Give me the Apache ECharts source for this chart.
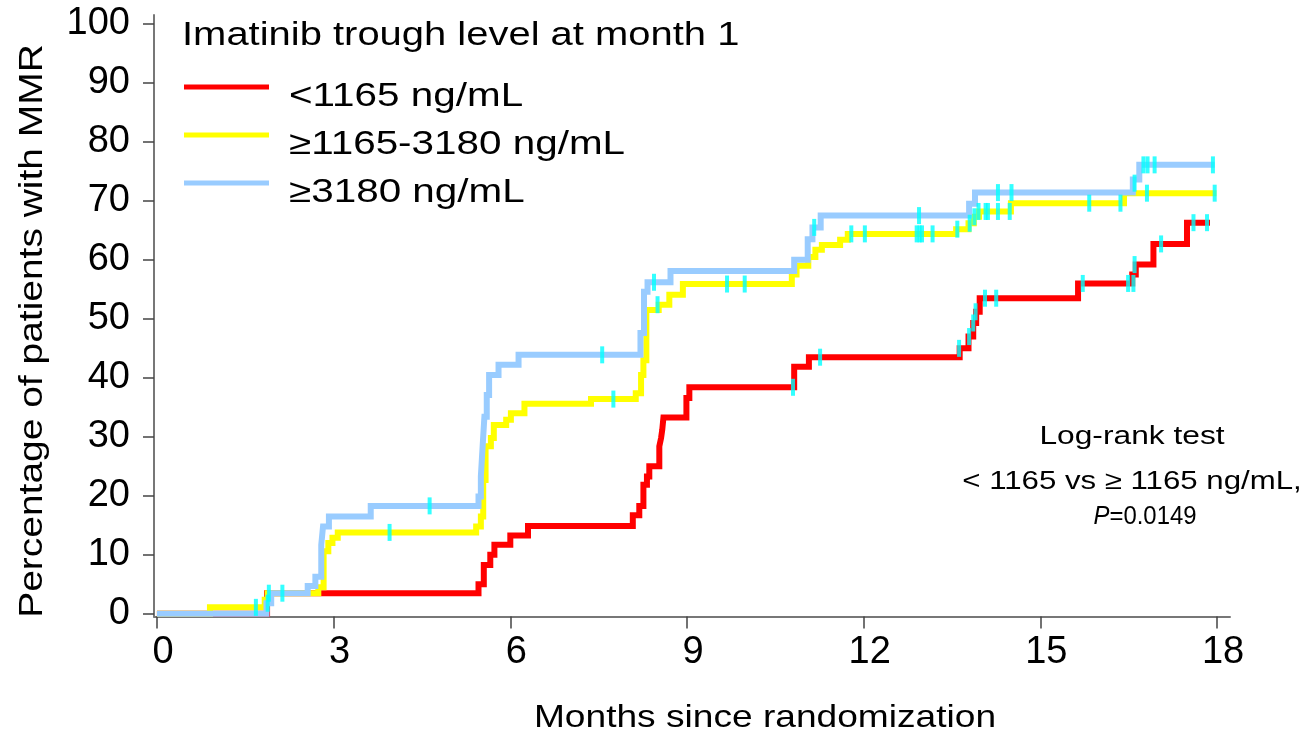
<!DOCTYPE html>
<html>
<head>
<meta charset="utf-8">
<script src="https://cdn.jsdelivr.net/npm/echarts@6/dist/echarts.min.js"></script>
<style>
  html, body { margin: 0; padding: 0; background: #ffffff; }
  #chart { width: 1313px; height: 736px; }
</style>
</head>
<body>
<div id="chart"></div>
<script>
// Cumulative incidence of MMR (%) by imatinib trough level, step points [month, percent]
const lowSteps = [
  [0, 0], [1.87, 3.5], [5.46, 5.0], [5.55, 8.3], [5.66, 10.0], [5.73, 11.7], [6.0, 13.3],
  [6.3, 14.9], [8.08, 16.7], [8.19, 18.3], [8.26, 21.9], [8.32, 23.3], [8.36, 25.0],
  [8.53, 28.4], [8.56, 29.8], [8.58, 31.2], [8.6, 33.3], [8.99, 36.6], [9.04, 38.4],
  [10.82, 41.9], [11.07, 43.5], [13.63, 45.0], [13.78, 47.0], [13.86, 49.3], [13.91, 51.2],
  [13.97, 53.5], [15.64, 56.0], [16.56, 57.5], [16.62, 59.2], [16.92, 62.7], [17.49, 66.3],
  [17.88, 66.3]
];
const midSteps = [
  [0, 0], [0.9, 1.1], [1.83, 2.4], [1.88, 3.5], [2.74, 4.5], [2.83, 10.6], [2.91, 12.0],
  [2.98, 12.9], [3.07, 13.8], [5.42, 14.8], [5.5, 16.5], [5.54, 22.7], [5.58, 28.4],
  [5.67, 29.8], [5.72, 32.0], [5.93, 32.9], [6.01, 34.0], [6.24, 35.6], [7.37, 36.4],
  [8.13, 37.4], [8.22, 40.5], [8.26, 43.0], [8.31, 51.5], [8.52, 52.4], [8.7, 54.1],
  [8.93, 55.9], [10.78, 57.5], [10.86, 59.0], [11.06, 60.5], [11.18, 61.7], [11.29, 62.5],
  [11.6, 63.4], [11.73, 64.4], [13.57, 65.2], [13.78, 66.2], [13.87, 67.3], [13.96, 68.2],
  [14.5, 69.6], [16.42, 71.3], [17.99, 71.3]
];
const highSteps = [
  [0, 0], [1.86, 1.8], [1.94, 3.5], [2.56, 4.7], [2.69, 6.3], [2.79, 11.7], [2.82, 14.8],
  [2.92, 16.5], [3.63, 18.3], [5.46, 19.9], [5.5, 23.3], [5.53, 28.4], [5.56, 33.4],
  [5.6, 37.1], [5.64, 40.5], [5.8, 42.2], [6.14, 43.9], [8.21, 47.6], [8.27, 54.6],
  [8.33, 56.2], [8.72, 58.1], [10.82, 60.0], [11.05, 63.5], [11.13, 65.5], [11.27, 67.5],
  [13.79, 69.5], [13.89, 71.4], [16.57, 73.6], [16.68, 76.1], [17.96, 76.1]
];

// Censored observations [month, percent]
const lowCensored = [
  [10.8, 38.4], [11.26, 43.5], [13.62, 45.0], [13.79, 47.0], [13.86, 49.3], [13.9, 51.2],
  [14.06, 53.5], [14.25, 53.5], [15.72, 56.0], [16.49, 56.0], [16.58, 56.0], [16.6, 59.2],
  [17.05, 62.7], [17.6, 66.3], [17.83, 66.3]
];
const midCensored = [
  [1.68, 1.1], [1.9, 3.5], [3.95, 13.8], [7.75, 36.4], [8.5, 52.4], [9.68, 55.9],
  [9.98, 55.9], [11.79, 64.4], [12.02, 64.4], [12.9, 64.4], [12.95, 64.4], [12.99, 64.4],
  [13.17, 64.4], [13.59, 65.2], [13.8, 66.2], [13.88, 67.3], [13.95, 68.2], [14.07, 68.2],
  [14.11, 68.2], [14.28, 68.2], [14.48, 68.2], [15.83, 69.6], [16.36, 69.6], [16.81, 71.3],
  [17.96, 71.3]
];
const highCensored = [
  [1.88, 1.8], [2.13, 3.5], [4.63, 18.3], [7.56, 43.9], [8.44, 56.2], [11.16, 65.5],
  [12.94, 67.5], [14.28, 71.4], [14.51, 71.4], [16.6, 73.0], [16.75, 76.1], [16.82, 76.1],
  [16.94, 76.1], [17.93, 76.1]
];

const groupNames = ['<1165 ng/mL', '\u22651165-3180 ng/mL', '\u22653180 ng/mL'];
const groupColors = ['#ff0000', '#ffff00', '#99ccff'];
const censorColor = '#00ffff';
const legendTitle = 'Imatinib trough level at month 1';
const xTicks = [0, 3, 6, 9, 12, 15, 18];
const yTicks = [0, 10, 20, 30, 40, 50, 60, 70, 80, 90, 100];
const xName = 'Months since randomization';
const yName = 'Percentage of patients with MMR';
const testLines = ['Log-rank test', '< 1165 vs \u2265 1165 ng/mL,', 'P', '=0.0149'];

const FONT = '"Liberation Sans", Arial, sans-serif';

function stepSeries(name, data, color, z) {
  return {
    type: 'line', name, data, step: 'end', showSymbol: false, z,
    lineStyle: { color, width: 6, join: 'miter', cap: 'butt' },
    emphasis: { disabled: true }, silent: true
  };
}
function censorSeries(name, data, z) {
  return {
    type: 'scatter', name, data, symbol: 'rect', symbolSize: [4, 17], z,
    itemStyle: { color: censorColor }, silent: true
  };
}

// stretched text helper used for the legend, annotation and axis titles
function label(text, x, y, size, sx, align, extra) {
  return Object.assign({
    type: 'text', x, y, scaleX: sx, silent: true,
    style: {
      text, x: 0, y: 0, fill: '#000', font: size + 'px ' + FONT,
      align: align, verticalAlign: 'middle'
    }
  }, extra || {});
}

const legendRows = [87, 135, 183];
const graphics = [label(legendTitle, 182, 36, 34, 1.175, 'left')];
groupNames.forEach((n, i) => {
  graphics.push({
    type: 'rect', silent: true,
    shape: { x: 184, y: legendRows[i] - 2.5, width: 85, height: 5 },
    style: { fill: groupColors[i] }
  });
  graphics.push(label(n, 289, legendRows[i] + 10, 33, 1.225, 'left'));
});
graphics.push(label(testLines[0], 1132, 437, 26, 1.22, 'center'));
graphics.push(label(testLines[1], 1132, 482, 26, 1.2, 'center'));
graphics.push({
  type: 'text', x: 1145, y: 517, scaleX: 0.92, silent: true,
  style: {
    text: '{i|' + testLines[2] + '}' + testLines[3], x: 0, y: 0, fill: '#000',
    font: '26px ' + FONT, align: 'center', verticalAlign: 'middle',
    rich: { i: { fontStyle: 'italic', fontSize: 26, fontFamily: FONT } }
  }
});
graphics.push(label(xName, 765, 718, 32, 1.16, 'center'));
graphics.push(label(yName, 33, 331, 33, 1.18, 'center', { rotation: Math.PI / 2 }));

const chart = echarts.init(document.getElementById('chart'), null, { renderer: 'canvas' });
chart.setOption({
  animation: false,
  backgroundColor: '#ffffff',
  grid: { left: 154, right: 83, top: 15, bottom: 119.5 },
  xAxis: {
    type: 'value', min: -0.05, max: 18.22,
    splitLine: { show: false },
    axisLine: { onZero: false, lineStyle: { color: '#777', width: 2 } },
    axisTick: { customValues: xTicks, length: 12, lineStyle: { color: '#444', width: 1.5 } },
    axisLabel: {
      customValues: xTicks, margin: 17, fontSize: 38, fontFamily: FONT, color: '#000',
      padding: [0, 0, 0, 12]
    }
  },
  yAxis: {
    type: 'value', min: -0.45, max: 101.5,
    splitLine: { show: false },
    axisLine: { onZero: false, lineStyle: { color: '#777', width: 2 } },
    axisTick: { customValues: yTicks, length: 11, lineStyle: { color: '#444', width: 1.5 } },
    axisLabel: {
      customValues: yTicks, margin: 24, fontSize: 38, fontFamily: FONT, color: '#000',
      padding: [8, 0, 0, 0]
    }
  },
  series: [
    stepSeries(groupNames[0], lowSteps, groupColors[0], 2),
    stepSeries(groupNames[1], midSteps, groupColors[1], 3),
    stepSeries(groupNames[2], highSteps, groupColors[2], 4),
    censorSeries(groupNames[0] + ' censored', lowCensored, 10),
    censorSeries(groupNames[1] + ' censored', midCensored, 10),
    censorSeries(groupNames[2] + ' censored', highCensored, 10)
  ],
  graphic: graphics
});
</script>
</body>
</html>
